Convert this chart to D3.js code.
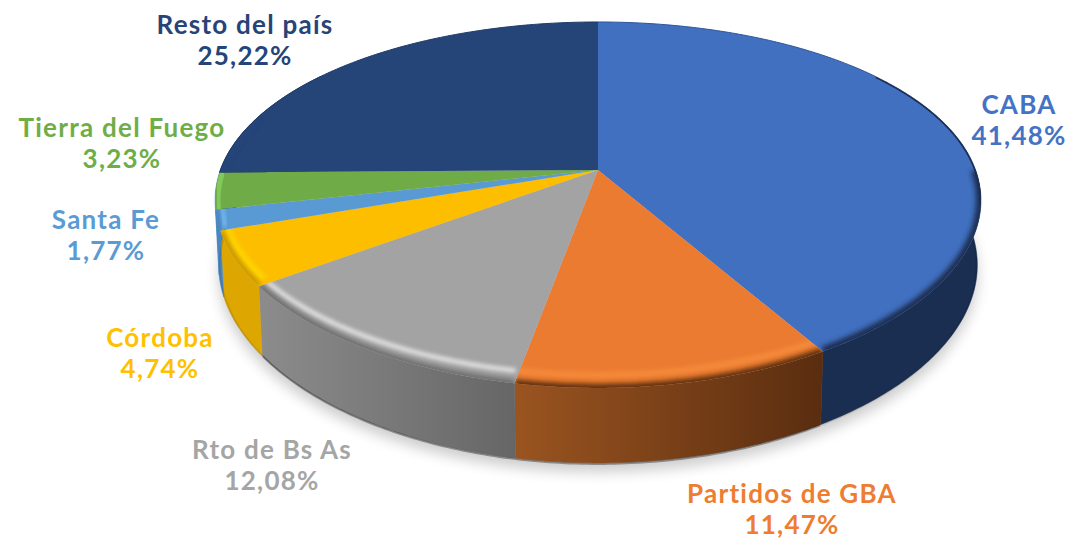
<!DOCTYPE html>
<html><head><meta charset="utf-8">
<script src="https://cdn.jsdelivr.net/npm/d3@7"></script>
<style>html,body{margin:0;padding:0;background:#fff;overflow:hidden}svg{display:block}</style>
</head><body><svg id="c" width="1071" height="539"></svg>
<script>
const categories = ["CABA","Partidos de GBA","Rto de Bs As","Córdoba","Santa Fe","Tierra del Fuego","Resto del país"];
const shares = [41.48,11.47,12.08,4.74,1.77,3.23,25.22];
const shareLabels = ["41,48%","11,47%","12,08%","4,74%","1,77%","3,23%","25,22%"];
const topColors = ["#4170C0","#EA7B31","#A3A3A3","#FDBE00","#5A9AD4","#6FAC47","#254478"];
const textColors = ["#4472C4","#ED7D31","#A5A5A5","#FFC000","#5B9BD5","#70AD47","#264478"];
const wallStart = ["#1A2E52","#9A5420","#8C8C8C","#DDA600","#4A86C0","#4A86C0","#1A2E52"];
const wallEnd   = ["#1A2E52","#5A2D10","#666666","#DDA600","#4A86C0","#4A86C0","#1A2E52"];
const rimDark   = ["#1A2E52","#5A2D10","#6E6E6E","#C99800","#4A86C0","#6FAC47","#254478"];
const rimLight  = [null,"#F58A3A","#EDEDED","#FFD800","#6FB4EC",null,null];
const labelX = [1019,792,272,160,106,122,245];
const labelY = [114,503,459,347,229,137,34];

const cx=598, cy=170, qx=0.167, qy=0.191;
const top3 = {a:377.6,y0:cy,b:176.3}, bot3 = {a:374,y0:233,b:186};
const TAU=Math.PI*2;
const svg=d3.select("#c"), defs=svg.append("defs");
const arcs=d3.pie().sort(null).startAngle(0).endAngle(TAU)(shares);
const fill=d3.scaleOrdinal(categories,topColors);
function proj(p,t,ix=0,iy=0){
  const X=Math.sin(t),Z=Math.cos(t);
  return [cx+p.a*X/(1+qx*Z) - ix*X, p.y0 - p.b*Z/(1+qy*Z) + iy*Z];
}
const line=d3.line();
const samples=(a,b,n=Math.max(6,Math.ceil((b-a)*80)))=>d3.range(n+1).map(i=>a+(b-a)*i/n);
const rim=(p,a,b,ix,iy)=>samples(a,b).map(t=>proj(p,t,ix,iy));

const blur=(id,s)=>defs.append("filter").attr("id",id).attr("x","-20%").attr("y","-20%").attr("width","140%").attr("height","140%")
  .append("feGaussianBlur").attr("stdDeviation",s);
blur("b7",7);blur("b3",2.6);blur("b2",2.2);blur("b1",0.7);

// ground shadow
svg.append("path").attr("d",line(rim(bot3,0,TAU))+"Z").attr("transform","translate(0,9)")
  .attr("fill","#000").attr("opacity",0.2).attr("filter","url(#b7)");

// walls: only the part facing the viewer can show
const wallRange=[Math.PI*0.3,Math.PI*1.7];
const wallG=svg.append("g");
arcs.forEach((d,i)=>{
  const a=Math.max(d.startAngle,wallRange[0]),b=Math.min(d.endAngle,wallRange[1]);
  if(b<=a)return;
  const T=rim(top3,a,b),B=rim(bot3,a,b);
  const xs=T.concat(B).map(p=>p[0]);
  const g=defs.append("linearGradient").attr("id","w"+i).attr("gradientUnits","userSpaceOnUse")
    .attr("x1",d3.min(xs)).attr("x2",d3.max(xs)).attr("y1",0).attr("y2",0);
  g.append("stop").attr("offset",0).attr("stop-color",wallStart[i]);
  g.append("stop").attr("offset",1).attr("stop-color",wallEnd[i]);
  wallG.append("path").attr("d",line(T.concat(B.slice().reverse()))+"Z").attr("fill",`url(#w${i})`).attr("stroke",`url(#w${i})`).attr("stroke-width",0.5);
  wallG.append("path").attr("d",line(rim(bot3,a,b,1,-1))).attr("fill","none")
    .attr("stroke","#000").attr("stroke-opacity",i===2||i===1?0.35:0.1).attr("stroke-width",2).attr("filter","url(#b1)");
});

// top faces with bevel
arcs.forEach((d,i)=>{
  const face=line([[cx,cy]].concat(rim(top3,d.startAngle,d.endAngle)))+"Z";
  defs.append("clipPath").attr("id","f"+i).append("path").attr("d",face);
  const g=svg.append("g");
  g.append("path").attr("d",face).attr("fill",fill(categories[i]));
  const cg=g.append("g").attr("clip-path",`url(#f${i})`);
  const a=Math.max(d.startAngle,Math.PI*0.5),b=Math.min(d.endAngle,Math.PI*1.6);
  if(b>a){
    if(rimLight[i]) cg.append("path").attr("d",line(rim(top3,a,b,6,13))).attr("fill","none")
      .attr("stroke",rimLight[i]).attr("stroke-width",i===2?4:6).attr("filter","url(#b2)");
    cg.append("path").attr("d",line(rim(top3,a,b,0,0))).attr("fill","none")
      .attr("stroke",rimDark[i]).attr("stroke-width",i===0?10:8)
      .attr("filter","url(#b3)");
  }
  if(i===5) cg.append("path").attr("d",line(rim(top3,d.startAngle,d.endAngle,3,0))).attr("fill","none")
      .attr("stroke","#82C85A").attr("stroke-width",5).attr("filter","url(#b1)");
  if(i===0) cg.append("path").attr("d",line(rim(top3,Math.PI*0.3,Math.PI*0.56))).attr("fill","none")
      .attr("stroke","#1A2E52").attr("stroke-width",3).attr("filter","url(#b1)");
  if(i===0||i===6) g.append("path").attr("d",line(rim(top3,i===0?0:d.startAngle,i===0?Math.PI*0.3:d.endAngle))).attr("fill","none")
      .attr("stroke",i===0?"#2F5597":"#1F3B68").attr("stroke-width",1);
});

// labels
categories.forEach((c,i)=>{
  const t=svg.append("text").attr("text-anchor","middle").attr("font-family","'Lato','Open Sans',sans-serif").attr("font-weight",700)
    .attr("font-size",26).attr("fill",textColors[i]).attr("letter-spacing",1.25);
  t.append("tspan").attr("x",labelX[i]).attr("y",labelY[i]).text(c);
  t.append("tspan").attr("x",labelX[i]).attr("dy",31).text(shareLabels[i]);
});
</script></body></html>
